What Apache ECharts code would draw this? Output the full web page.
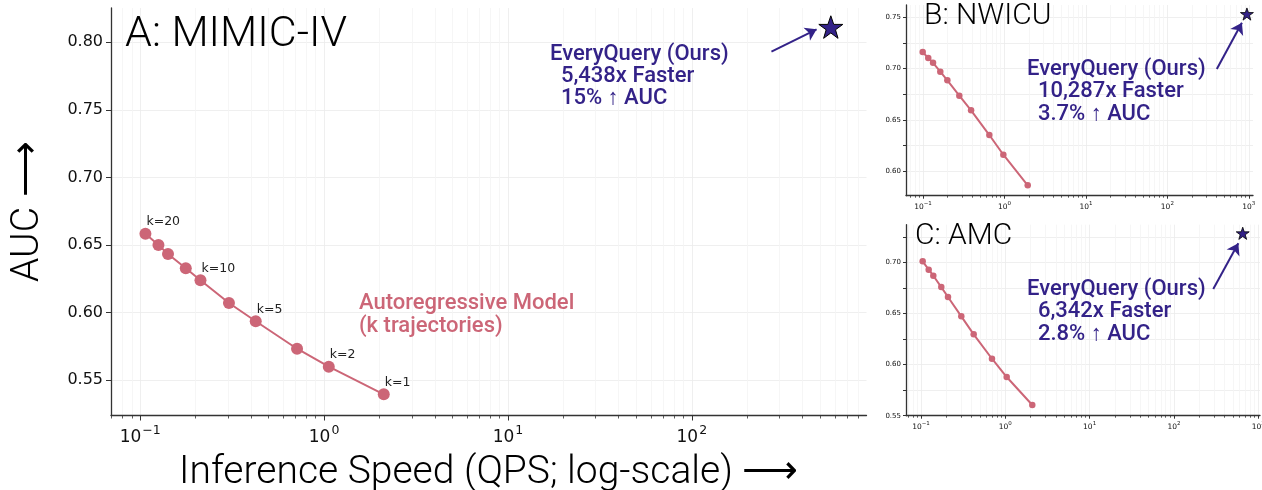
<!DOCTYPE html>
<html>
<head>
<meta charset="utf-8">
<script src="https://cdn.jsdelivr.net/npm/echarts@6/dist/echarts.min.js"></script>
<style>html,body{margin:0;padding:0;background:#fff}#c{width:1262px;height:490px}</style>
</head>
<body>
<div id="c"></div>
<script>
// ---- data ----
const qpsA = [0.1068, 0.1257, 0.1417, 0.177, 0.2128, 0.304, 0.425, 0.713, 1.061, 2.112];
const aucA = [0.6584, 0.6500, 0.6433, 0.6328, 0.6239, 0.6071, 0.5936, 0.5733, 0.5600, 0.5396];
const kLabelsA = ['k=20', '', '', '', 'k=10', '', 'k=5', '', 'k=2', 'k=1'];
const oursA = [570, 0.8112];

const qpsB = [0.0991, 0.116, 0.1327, 0.163, 0.199, 0.279, 0.389, 0.652, 0.969, 1.93];
const aucB = [0.7162, 0.7103, 0.7057, 0.6970, 0.6886, 0.6736, 0.6594, 0.6353, 0.6161, 0.5863];
const oursB = [948, 0.7532];

const qpsC = [0.1047, 0.1234, 0.1400, 0.1741, 0.209, 0.3007, 0.4217, 0.695, 1.039, 2.09];
const aucC = [0.7010, 0.6928, 0.6869, 0.6758, 0.6661, 0.6472, 0.6296, 0.6057, 0.5878, 0.5605];
const oursC = [655, 0.7284];

const xTicksA = [0.1, 1, 10, 100];
const xTicksBC = [0.1, 1, 10, 100, 1000];
const yTicksA = [0.55, 0.60, 0.65, 0.70, 0.75, 0.80];
const yTicksB = [0.60, 0.65, 0.70, 0.75];
const yTicksBminor = [0.575, 0.60, 0.625, 0.65, 0.675, 0.70, 0.725, 0.75];
const yTicksC = [0.55, 0.60, 0.65, 0.70];
const yTicksCminor = [0.55, 0.575, 0.60, 0.625, 0.65, 0.675, 0.70, 0.725];

const annA = 'EveryQuery (Ours)\n  5,438x Faster\n  15% \u2191 AUC';
const annB = 'EveryQuery (Ours)\n  10,287x Faster\n  3.7% \u2191 AUC';
const annC = 'EveryQuery (Ours)\n  6,342x Faster\n  2.8% \u2191 AUC';

// ---- helpers ----
function minorTicks(lo, hi) {
  const out = [];
  for (let e = -2; e <= 3; e++) {
    for (let m = 2; m <= 9; m++) {
      const v = m * Math.pow(10, e);
      if (v > lo && v < hi) out.push(v);
    }
  }
  return out;
}
const ROSE = '#CC6677';
const INDIGO = '#332288';
const STAR = 'path://M50,0 L61.8,35.1 L98.9,35.1 L69,57 L79.4,91.9 L50,70 L20.6,91.9 L31,57 L1.1,35.1 L38.2,35.1 Z';

function expLabel(v) {
  const e = Math.round(Math.log10(v));
  return '{b|10}{s|' + (e < 0 ? '\u2212' : '') + Math.abs(e) + '}';
}

const ext = {
  A: {x: [0.0694, 891], y: [0.5239, 0.8253]},
  B: {x: [0.0618, 1126], y: [0.5762, 0.762]},
  C: {x: [0.0664, 1050], y: [0.55, 0.7368]}
};

const gridLineMajor = {show: true, lineStyle: {color: '#ebebeb', width: 0.8}};
const gridLineMinor = {show: true, lineStyle: {color: '#f4f4f4', width: 0.8}};
const axisLineStyle = {show: true, lineStyle: {color: '#333', width: 1.3}};

function mainX(gi, e, ticks, big) {
  return {
    type: 'log', gridIndex: gi, min: e[0], max: e[1], position: 'bottom',
    axisLine: axisLineStyle,
    axisTick: {show: true, customValues: ticks, length: big ? 5 : 3, lineStyle: {color: '#333', width: 1}},
    axisLabel: {
      show: true, customValues: ticks, margin: big ? 9 : 5,
      formatter: expLabel,
      rich: big ? {
        b: {fontFamily: 'DejaVu Sans', fontSize: 17, color: '#111', lineHeight: 22, verticalAlign: 'bottom'},
        s: {fontFamily: 'DejaVu Sans', fontSize: 12.5, color: '#111', lineHeight: 12, verticalAlign: 'top', padding: [0, 0, 0, 1]}
      } : {
        b: {fontFamily: 'DejaVu Sans', fontSize: 7.5, color: '#111', lineHeight: 10, verticalAlign: 'bottom'},
        s: {fontFamily: 'DejaVu Sans', fontSize: 5.5, color: '#111', lineHeight: 6, verticalAlign: 'top'}
      }
    },
    splitLine: gridLineMajor
  };
}
function minorX(gi, e, big) {
  return {
    type: 'log', gridIndex: gi, min: e[0], max: e[1], position: 'bottom',
    axisLine: {show: false},
    axisTick: {show: true, customValues: minorTicks(e[0], e[1]), length: big ? 3 : 2, lineStyle: {color: '#333', width: 0.8}},
    axisLabel: {show: false},
    splitLine: gridLineMinor
  };
}
function mainY(gi, e, labels, ticks, big) {
  return {
    type: 'value', gridIndex: gi, min: e[0], max: e[1],
    axisLine: axisLineStyle,
    axisTick: {show: true, customValues: ticks, length: big ? 5 : 3, lineStyle: {color: '#333', width: 1}},
    axisLabel: {
      show: true, customValues: labels, margin: big ? 8 : 5,
      fontFamily: 'DejaVu Sans', fontSize: big ? 16 : 7, color: '#111',
      formatter: v => v.toFixed(2)
    },
    splitLine: gridLineMajor
  };
}

function pts(q, a) { return q.map((v, i) => [v, a[i]]); }

const chart = echarts.init(document.getElementById('c'), null, {renderer: 'canvas'});

const annStyle = {fontFamily: 'Roboto', fontWeight: 500, fontSize: 22, lineHeight: 22.5, fill: INDIGO};

const option = {
  animation: false,
  backgroundColor: '#fff',
  grid: [
    {left: 111, top: 8, width: 755.5, height: 407.5, outerBoundsMode: 'none', containLabel: false},
    {left: 906, top: 5, width: 347, height: 190.7, outerBoundsMode: 'none', containLabel: false},
    {left: 906, top: 224.7, width: 354, height: 191, outerBoundsMode: 'none', containLabel: false}
  ],
  xAxis: [
    Object.assign(mainX(0, ext.A.x, xTicksA, true), {
      name: 'Inference Speed (QPS; log-scale) \u27F6', nameLocation: 'middle', nameGap: 38,
      nameTextStyle: {fontFamily: 'Roboto', fontWeight: 300, fontSize: 39, color: '#000'}
    }),
    minorX(0, ext.A.x, true),
    mainX(1, ext.B.x, xTicksBC, false),
    minorX(1, ext.B.x, false),
    mainX(2, ext.C.x, xTicksBC, false),
    minorX(2, ext.C.x, false)
  ],
  yAxis: [
    Object.assign(mainY(0, ext.A.y, yTicksA, yTicksA, true), {
      name: 'AUC \u27F6', nameLocation: 'middle', nameGap: 63, nameRotate: 90,
      nameTextStyle: {fontFamily: 'Roboto', fontWeight: 300, fontSize: 39, color: '#000'}
    }),
    mainY(1, ext.B.y, yTicksB, yTicksBminor, false),
    mainY(2, ext.C.y, yTicksC, yTicksCminor, false)
  ],
  series: [
    {
      type: 'line', xAxisIndex: 0, yAxisIndex: 0, data: pts(qpsA, aucA),
      symbol: 'circle', symbolSize: 12, z: 3,
      itemStyle: {color: ROSE, opacity: 1}, lineStyle: {color: ROSE, width: 2},
      label: {
        show: true, position: [7, -6], align: 'left', verticalAlign: 'middle',
        fontFamily: 'DejaVu Sans', fontSize: 12.5, color: '#222',
        formatter: p => kLabelsA[p.dataIndex]
      }
    },
    {
      type: 'line', xAxisIndex: 2, yAxisIndex: 1, data: pts(qpsB, aucB),
      symbol: 'circle', symbolSize: 6.5, z: 3,
      itemStyle: {color: ROSE, opacity: 1}, lineStyle: {color: ROSE, width: 2}
    },
    {
      type: 'line', xAxisIndex: 4, yAxisIndex: 2, data: pts(qpsC, aucC),
      symbol: 'circle', symbolSize: 6.5, z: 3,
      itemStyle: {color: ROSE, opacity: 1}, lineStyle: {color: ROSE, width: 2}
    },
    {
      type: 'scatter', xAxisIndex: 0, yAxisIndex: 0, data: [oursA],
      symbol: STAR, symbolSize: 24, symbolKeepAspect: true, z: 4,
      itemStyle: {color: INDIGO, borderColor: '#000', borderWidth: 1, opacity: 1}
    },
    {
      type: 'scatter', xAxisIndex: 2, yAxisIndex: 1, data: [oursB],
      symbol: STAR, symbolSize: 13, symbolKeepAspect: true, z: 4,
      itemStyle: {color: INDIGO, borderColor: '#000', borderWidth: 0.8, opacity: 1}
    },
    {
      type: 'scatter', xAxisIndex: 4, yAxisIndex: 2, data: [oursC],
      symbol: STAR, symbolSize: 13, symbolKeepAspect: true, z: 4,
      itemStyle: {color: INDIGO, borderColor: '#000', borderWidth: 0.8, opacity: 1}
    },
    {
      type: 'lines', coordinateSystem: 'cartesian2d', xAxisIndex: 0, yAxisIndex: 0, z: 4,
      data: [{coords: [[271, 0.793], [477, 0.8095]]}],
      symbol: ['none', 'arrow'], symbolSize: 11,
      lineStyle: {color: INDIGO, width: 2, opacity: 1}
    },
    {
      type: 'lines', coordinateSystem: 'cartesian2d', xAxisIndex: 2, yAxisIndex: 1, z: 4,
      data: [{coords: [[405, 0.6996], [823, 0.7447]]}],
      symbol: ['none', 'arrow'], symbolSize: 11,
      lineStyle: {color: INDIGO, width: 2, opacity: 1}
    },
    {
      type: 'lines', coordinateSystem: 'cartesian2d', xAxisIndex: 4, yAxisIndex: 2, z: 4,
      data: [{coords: [[293, 0.6739], [581, 0.7186]]}],
      symbol: ['none', 'arrow'], symbolSize: 11,
      lineStyle: {color: INDIGO, width: 2, opacity: 1}
    }
  ],
  graphic: [
    {type: 'text', left: 125, top: 14, z: 10, style: {text: 'A: MIMIC-IV', fontFamily: 'Roboto', fontWeight: 300, fontSize: 43, fill: '#000'}},
    {type: 'text', left: 924, top: 1, z: 10, style: {text: 'B: NWICU', fontFamily: 'Roboto', fontWeight: 300, fontSize: 30, fill: '#000'}},
    {type: 'text', left: 915, top: 221, z: 10, style: {text: 'C: AMC', fontFamily: 'Roboto', fontWeight: 300, fontSize: 30, fill: '#000'}},
    {type: 'text', left: 550, top: 43, z: 10, style: Object.assign({text: annA}, annStyle, {lineHeight: 22})},
    {type: 'text', left: 1027, top: 58, z: 10, style: Object.assign({text: annB}, annStyle)},
    {type: 'text', left: 1027, top: 278, z: 10, style: Object.assign({text: annC}, annStyle)},
    {type: 'text', left: 359, top: 292, z: 10, style: {text: 'Autoregressive Model\n(k trajectories)', fontFamily: 'Roboto', fontWeight: 500, fontSize: 22, lineHeight: 22.7, fill: ROSE}}
  ]
};
chart.setOption(option);
</script>
</body>
</html>
